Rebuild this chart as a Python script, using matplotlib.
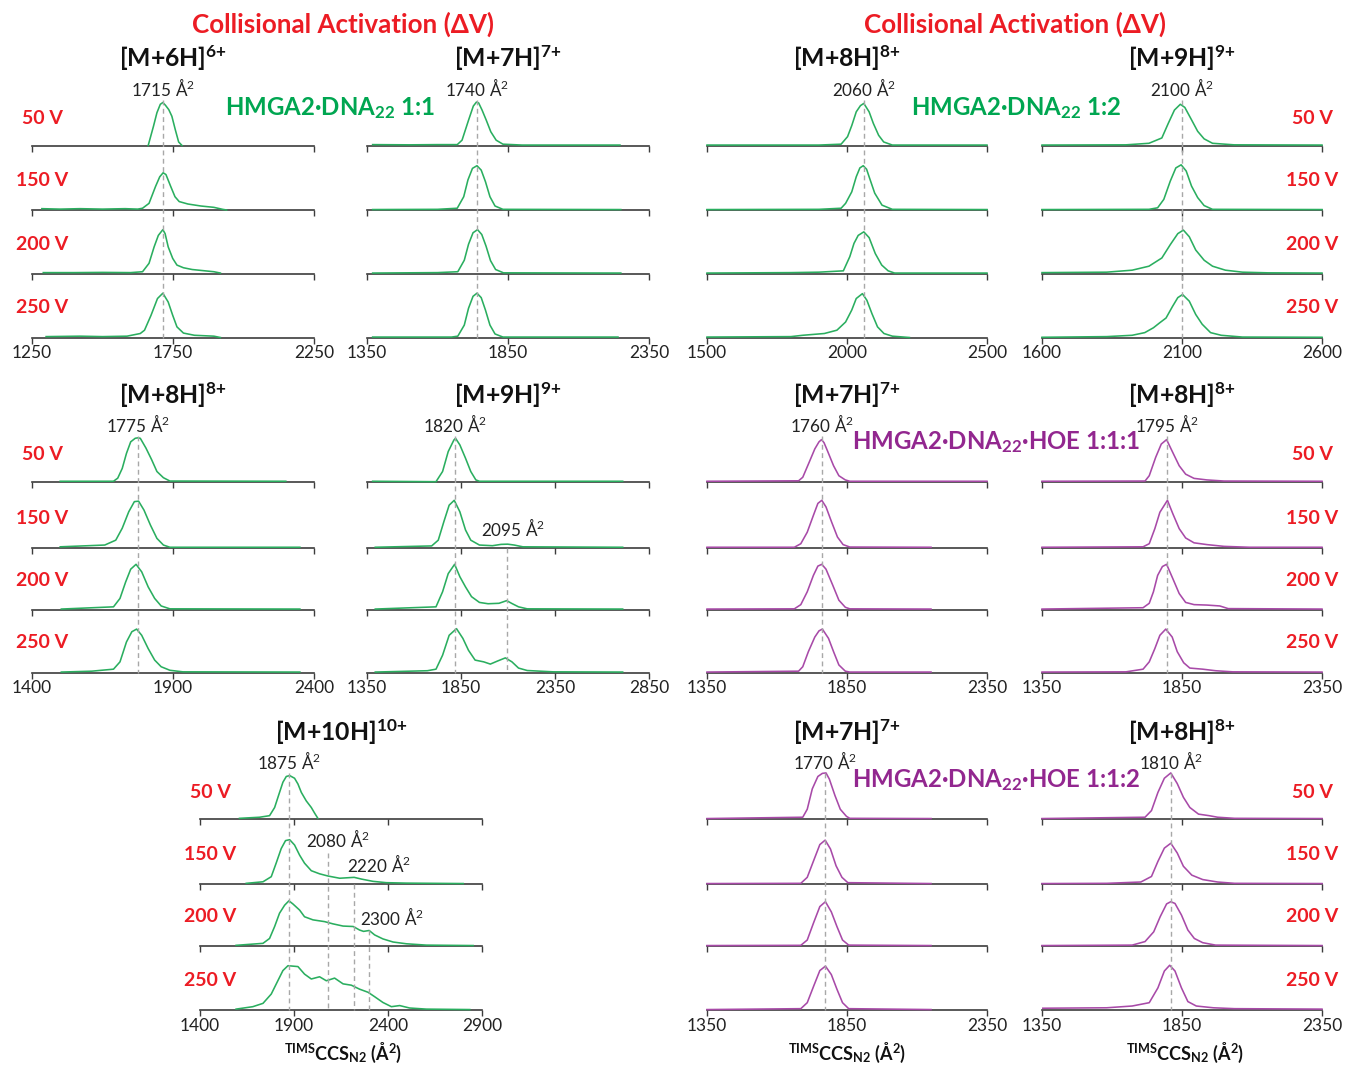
import matplotlib
matplotlib.use("Agg")
import matplotlib.pyplot as plt
from matplotlib import transforms
from matplotlib.lines import Line2D

plt.rcParams['font.family'] = ['Lato', 'DejaVu Sans']
plt.rcParams['mathtext.fontset'] = 'custom'
plt.rcParams['mathtext.rm'] = 'Lato'
plt.rcParams['mathtext.bf'] = 'Lato:bold'
plt.rcParams['mathtext.it'] = 'Lato:italic'

voltages = ['50 V', '150 V', '200 V', '250 V']

# ---- HMGA2·DNA22 1:1, [M+6H]6+  (CCS, normalized intensity)
m6h_50 = [(1662, 0), (1681, 0.44), (1693, 0.74), (1705, 0.93), (1714, 0.97), (1723, 0.91), (1735, 0.81),
          (1746, 0.66), (1758, 0.36), (1770, 0.08), (1782, 0)]
m6h_150 = [(1285, 0.03), (1350, 0.02), (1420, 0.03), (1500, 0.02), (1580, 0.03), (1625, 0.02), (1642, 0.04),
           (1665, 0.15), (1688, 0.53), (1703, 0.75), (1715, 0.84), (1725, 0.8), (1742, 0.53), (1757, 0.3),
           (1772, 0.19), (1803, 0.135), (1849, 0.09), (1895, 0.06), (1926, 0.015), (1940, 0)]
m6h_200 = [(1290, 0.02), (1400, 0.02), (1500, 0.025), (1600, 0.02), (1642, 0.04), (1665, 0.23), (1683, 0.6),
           (1698, 0.86), (1714, 0.99), (1722, 0.9), (1733, 0.6), (1749, 0.34), (1764, 0.19), (1787, 0.13),
           (1818, 0.09), (1864, 0.06), (1895, 0.04), (1918, 0.01)]
m6h_250 = [(1300, 0.02), (1420, 0.03), (1500, 0.02), (1587, 0.03), (1634, 0.09), (1649, 0.165), (1672, 0.5),
           (1695, 0.88), (1714, 1.0), (1733, 0.8), (1749, 0.5), (1764, 0.24), (1787, 0.1), (1826, 0.05),
           (1895, 0.03), (1918, 0)]

# ---- HMGA2·DNA22 1:1, [M+7H]7+
m7h_50 = [(1370, 0.02), (1500, 0.015), (1600, 0.02), (1670, 0.02), (1687, 0.12), (1710, 0.57), (1727, 0.89),
          (1738, 0.98), (1746, 0.96), (1758, 0.8), (1773, 0.57), (1789, 0.31), (1808, 0.12), (1832, 0.03),
          (1900, 0.01), (2247, 0.01)]
m7h_150 = [(1370, 0.01), (1600, 0.015), (1670, 0.04), (1693, 0.3), (1708, 0.68), (1724, 0.94), (1740, 1.0),
           (1755, 0.9), (1770, 0.64), (1786, 0.3), (1804, 0.09), (1832, 0.015), (2250, 0.01)]
m7h_200 = [(1370, 0.01), (1600, 0.02), (1672, 0.04), (1695, 0.3), (1710, 0.66), (1726, 0.92), (1742, 0.99),
           (1757, 0.88), (1772, 0.62), (1788, 0.29), (1806, 0.09), (1834, 0.015), (2250, 0.01)]
m7h_250 = [(1370, 0.01), (1650, 0.01), (1672, 0.03), (1695, 0.28), (1710, 0.66), (1726, 0.93), (1740, 1.0),
           (1755, 0.9), (1770, 0.62), (1786, 0.28), (1804, 0.08), (1832, 0.01), (2240, 0.01)]

# ---- HMGA2·DNA22 1:2, [M+8H]8+
d2_8h_50 = [(1500, 0.01), (1900, 0.01), (1979, 0.03), (2002, 0.2), (2017, 0.45), (2033, 0.76), (2048, 0.9),
            (2060, 0.95), (2079, 0.76), (2094, 0.5), (2113, 0.23), (2131, 0.08), (2162, 0.01), (2500, 0.01)]
d2_8h_150 = [(1500, 0.01), (1900, 0.015), (1979, 0.04), (1995, 0.15), (2017, 0.41), (2033, 0.75), (2046, 0.95),
             (2058, 1.0), (2070, 0.92), (2079, 0.75), (2099, 0.38), (2125, 0.11), (2162, 0.015), (2500, 0.01)]
d2_8h_200 = [(1500, 0.01), (1800, 0.02), (1900, 0.03), (1987, 0.06), (2010, 0.38), (2025, 0.68), (2040, 0.86),
             (2060, 0.94), (2079, 0.81), (2101, 0.45), (2124, 0.19), (2147, 0.06), (2170, 0.01), (2500, 0.01)]
d2_8h_250 = [(1500, 0.01), (1800, 0.02), (1842, 0.05), (1919, 0.09), (1964, 0.165), (1995, 0.35), (2017, 0.62),
             (2033, 0.88), (2055, 0.99), (2071, 0.84), (2089, 0.54), (2109, 0.24), (2132, 0.09), (2162, 0.03),
             (2223, 0.0)]

# ---- HMGA2·DNA22 1:2, [M+9H]9+
d2_9h_50 = [(1600, 0.01), (1900, 0.015), (1982, 0.05), (2028, 0.17), (2051, 0.5), (2073, 0.8), (2094, 0.93),
            (2110, 0.86), (2134, 0.58), (2156, 0.32), (2179, 0.15), (2209, 0.05), (2286, 0.015), (2600, 0.01)]
d2_9h_150 = [(1600, 0.01), (1982, 0.015), (2013, 0.05), (2035, 0.24), (2058, 0.65), (2078, 0.95), (2097, 1.02),
             (2115, 0.88), (2134, 0.54), (2156, 0.28), (2179, 0.1), (2209, 0.015), (2600, 0.01)]
d2_9h_200 = [(1600, 0.02), (1831, 0.03), (1922, 0.075), (1982, 0.165), (2028, 0.35), (2058, 0.65), (2085, 0.9),
             (2105, 0.98), (2126, 0.83), (2149, 0.53), (2179, 0.3), (2209, 0.165), (2255, 0.075), (2316, 0.03),
             (2407, 0.015), (2600, 0.01)]
d2_9h_250 = [(1600, 0.005), (1831, 0.02), (1922, 0.05), (1967, 0.11), (1998, 0.22), (2020, 0.33), (2043, 0.44),
             (2066, 0.7), (2085, 0.9), (2102, 0.97), (2126, 0.82), (2149, 0.52), (2172, 0.3), (2202, 0.11),
             (2240, 0.05), (2316, 0.01), (2600, 0.005)]

# ---- HMGA2·DNA22 1:1, [M+8H]8+
m8h_50 = [(1500, 0.01), (1689, 0.01), (1704, 0.08), (1720, 0.3), (1735, 0.64), (1750, 0.9), (1766, 0.98),
          (1775, 0.99), (1784, 0.98), (1804, 0.76), (1824, 0.5), (1843, 0.23), (1866, 0.09), (1889, 0.015),
          (2300, 0.01)]
m8h_150 = [(1500, 0.02), (1658, 0.06), (1697, 0.17), (1720, 0.44), (1743, 0.81), (1763, 1.04), (1778, 1.05),
           (1797, 0.85), (1820, 0.51), (1843, 0.21), (1866, 0.06), (1889, 0.01), (2350, 0.01)]
m8h_200 = [(1504, 0.01), (1689, 0.06), (1712, 0.25), (1732, 0.62), (1750, 0.91), (1769, 1.02), (1789, 0.85),
           (1812, 0.51), (1835, 0.25), (1858, 0.08), (1889, 0.015), (2350, 0.01)]
m8h_250 = [(1504, 0.01), (1612, 0.03), (1689, 0.075), (1712, 0.24), (1735, 0.69), (1754, 0.92), (1771, 0.98),
           (1789, 0.84), (1812, 0.54), (1835, 0.28), (1858, 0.13), (1889, 0.05), (1935, 0.015), (2350, 0.01)]

# ---- HMGA2·DNA22 1:1, [M+9H]9+
m9h_50 = [(1380, 0.01), (1717, 0.0), (1752, 0.23), (1782, 0.68), (1812, 0.94), (1821, 0.98), (1844, 0.83),
          (1874, 0.53), (1902, 0.23), (1929, 0.04), (1948, 0.01), (2710, 0.01)]
m9h_150 = [(1394, 0.01), (1694, 0.04), (1729, 0.17), (1759, 0.59), (1787, 0.96), (1814, 1.07), (1844, 0.81),
           (1874, 0.4), (1902, 0.17), (1948, 0.06), (2017, 0.045), (2063, 0.075), (2098, 0.08), (2133, 0.06),
           (2179, 0.02), (2710, 0.01)]
m9h_200 = [(1394, 0.01), (1717, 0.06), (1752, 0.4), (1782, 0.81), (1816, 1.02), (1844, 0.74), (1874, 0.51),
           (1906, 0.29), (1948, 0.16), (1994, 0.13), (2052, 0.14), (2093, 0.2), (2121, 0.135), (2156, 0.06),
           (2202, 0.015), (2710, 0.01)]
m9h_250 = [(1394, 0.01), (1671, 0.04), (1717, 0.075), (1752, 0.39), (1787, 0.84), (1826, 0.99), (1860, 0.77),
           (1890, 0.5), (1925, 0.28), (1971, 0.24), (2006, 0.19), (2045, 0.26), (2086, 0.33), (2121, 0.24),
           (2156, 0.1), (2202, 0.045), (2340, 0.015), (2710, 0.01)]

# ---- HMGA2·DNA22·HOE 1:1:1, [M+7H]7+
h1_7h_50 = [(1350, 0.01), (1677, 0.02), (1692, 0.1), (1715, 0.44), (1735, 0.74), (1750, 0.9), (1759, 0.95),
            (1768, 0.88), (1780, 0.7), (1802, 0.36), (1821, 0.135), (1844, 0.04), (1860, 0.01), (2350, 0.01)]
h1_7h_150 = [(1350, 0.01), (1662, 0.01), (1685, 0.09), (1708, 0.35), (1730, 0.73), (1746, 1.0), (1760, 1.07),
             (1775, 0.92), (1795, 0.58), (1816, 0.24), (1836, 0.07), (1860, 0.015), (2150, 0.01)]
h1_7h_200 = [(1350, 0.01), (1662, 0.015), (1685, 0.11), (1708, 0.4), (1730, 0.77), (1746, 0.98), (1760, 1.02),
             (1775, 0.91), (1799, 0.55), (1821, 0.21), (1844, 0.05), (1860, 0.015), (2150, 0.01)]
h1_7h_250 = [(1350, 0.01), (1677, 0.03), (1692, 0.13), (1712, 0.47), (1735, 0.8), (1750, 0.94), (1762, 0.98),
             (1784, 0.77), (1802, 0.47), (1821, 0.17), (1844, 0.03), (1860, 0.01), (2150, 0.01)]

# ---- HMGA2·DNA22·HOE 1:1:1, [M+8H]8+
h1_8h_50 = [(1350, 0.01), (1718, 0.015), (1733, 0.135), (1756, 0.55), (1776, 0.85), (1795, 0.95), (1817, 0.66),
            (1840, 0.36), (1863, 0.17), (1893, 0.075), (1939, 0.04), (2000, 0.015), (2350, 0.01)]
h1_8h_150 = [(1350, 0.01), (1711, 0.02), (1733, 0.09), (1753, 0.43), (1771, 0.8), (1798, 1.07), (1817, 0.77),
             (1840, 0.43), (1863, 0.22), (1893, 0.11), (1939, 0.07), (2000, 0.03), (2091, 0.01), (2350, 0.01)]
h1_8h_200 = [(1350, 0.01), (1711, 0.04), (1733, 0.14), (1748, 0.4), (1763, 0.77), (1780, 0.97), (1795, 1.02),
             (1817, 0.7), (1840, 0.36), (1863, 0.16), (1893, 0.11), (1939, 0.1), (1985, 0.08), (2015, 0.02),
             (2350, 0.01)]
h1_8h_250 = [(1350, 0.01), (1650, 0.015), (1711, 0.075), (1733, 0.24), (1753, 0.54), (1771, 0.84), (1792, 0.98),
             (1815, 0.8), (1833, 0.47), (1856, 0.22), (1878, 0.1), (1924, 0.075), (1970, 0.04), (2031, 0.015),
             (2350, 0.01)]

# ---- HMGA2·DNA22 1:1, [M+10H]10+
m10h_50 = [(1610, 0.015), (1717, 0.04), (1770, 0.075), (1797, 0.26), (1820, 0.56), (1841, 0.83), (1859, 0.96),
           (1877, 0.98), (1903, 0.92), (1921, 0.79), (1939, 0.6), (1965, 0.41), (1992, 0.26), (2010, 0.13),
           (2027, 0.015)]
m10h_150 = [(1646, 0.015), (1735, 0.05), (1779, 0.165), (1805, 0.47), (1832, 0.8), (1855, 0.98), (1877, 1.0),
            (1903, 0.88), (1930, 0.65), (1956, 0.47), (1992, 0.3), (2036, 0.23), (2081, 0.18), (2143, 0.13),
            (2220, 0.15), (2260, 0.11), (2320, 0.06), (2391, 0.03), (2498, 0.02), (2800, 0.01)]
m10h_200 = [(1592, 0.015), (1735, 0.06), (1770, 0.17), (1797, 0.44), (1823, 0.74), (1850, 0.92), (1873, 1.02),
            (1894, 0.95), (1930, 0.81), (1956, 0.66), (2001, 0.59), (2063, 0.55), (2107, 0.5), (2161, 0.45),
            (2215, 0.44), (2249, 0.36), (2270, 0.33), (2300, 0.35), (2329, 0.25), (2373, 0.16), (2427, 0.09),
            (2498, 0.05), (2604, 0.02), (2853, 0.01)]
m10h_250 = [(1592, 0.02), (1681, 0.075), (1735, 0.15), (1779, 0.36), (1814, 0.66), (1841, 0.89), (1868, 1.0),
            (1921, 0.98), (1956, 0.81), (1992, 0.7), (2036, 0.75), (2072, 0.66), (2116, 0.72), (2161, 0.59),
            (2205, 0.56), (2249, 0.47), (2294, 0.4), (2329, 0.3), (2373, 0.17), (2418, 0.075), (2462, 0.1),
            (2515, 0.045), (2604, 0.02), (2835, 0.01)]

# ---- HMGA2·DNA22·HOE 1:1:2, [M+7H]7+
h2_7h_50 = [(1350, 0.01), (1692, 0.04), (1708, 0.22), (1726, 0.68), (1746, 0.96), (1762, 1.03), (1775, 1.04),
            (1787, 0.9), (1807, 0.53), (1826, 0.22), (1848, 0.06), (1860, 0.015), (2150, 0.01)]
h2_7h_150 = [(1350, 0.01), (1685, 0.015), (1708, 0.15), (1731, 0.53), (1753, 0.89), (1772, 0.99), (1791, 0.79),
             (1811, 0.41), (1832, 0.15), (1853, 0.03), (2150, 0.01)]
h2_7h_200 = [(1350, 0.01), (1685, 0.015), (1708, 0.135), (1731, 0.53), (1753, 0.89), (1773, 1.0), (1794, 0.77),
             (1814, 0.44), (1834, 0.135), (1856, 0.02), (2150, 0.01)]
h2_7h_250 = [(1350, 0.01), (1685, 0.03), (1708, 0.165), (1731, 0.54), (1753, 0.89), (1773, 0.99), (1794, 0.8),
             (1814, 0.47), (1834, 0.165), (1856, 0.03), (2150, 0.01)]

# ---- HMGA2·DNA22·HOE 1:1:2, [M+8H]8+
h2_8h_50 = [(1350, 0.01), (1718, 0.04), (1741, 0.19), (1764, 0.6), (1787, 0.92), (1810, 1.04), (1833, 0.8),
            (1855, 0.49), (1878, 0.26), (1909, 0.11), (1947, 0.075), (1977, 0.04), (2038, 0.015), (2350, 0.01)]
h2_8h_150 = [(1350, 0.01), (1581, 0.015), (1703, 0.045), (1741, 0.17), (1764, 0.51), (1787, 0.81), (1810, 0.92),
             (1833, 0.7), (1855, 0.4), (1885, 0.2), (1924, 0.1), (1977, 0.045), (2038, 0.015), (2350, 0.01)]
h2_8h_200 = [(1350, 0.01), (1672, 0.02), (1718, 0.1), (1749, 0.32), (1772, 0.66), (1795, 0.95), (1810, 1.0),
             (1825, 0.96), (1848, 0.7), (1871, 0.36), (1894, 0.17), (1924, 0.075), (1970, 0.02), (2350, 0.01)]
h2_8h_250 = [(1353, 0.04), (1581, 0.05), (1672, 0.09), (1733, 0.165), (1764, 0.5), (1787, 0.88), (1806, 1.01),
             (1825, 0.88), (1848, 0.5), (1871, 0.19), (1901, 0.09), (1962, 0.05), (2038, 0.03), (2350, 0.02)]

GREEN = '#2aae5f'
PURPLE = '#a84aa8'
RED = '#ec1c24'
LBL_GREEN = '#00a651'
LBL_PURPLE = '#92278f'
AXC = '#3c3c3c'
DASH = '#a8a8a8'

W, H = 1348, 1070
fig = plt.figure(figsize=(W / 100, H / 100), dpi=100)

row_bases = [[145.5, 210, 273.5, 337.5], [481.7, 547.7, 609.5, 672.5], [819, 884, 946, 1010]]
volt_offsets = [27, 29, 29, 30]
AX_H = 48
YTOP = AX_H / 44.3


def fx(px):
    return px / W


def fy(py):
    return 1 - py / H


# traces, ticks, title, labelled peak, colour, left px, right px, row, voltage label x (px)
panels = [
    ([m6h_50, m6h_150, m6h_200, m6h_250], [1250, 1750, 2250], r'[M+6H]$^{\mathbf{6{+}}}$', 1715, GREEN, 32, 314, 0, 42),
    ([m7h_50, m7h_150, m7h_200, m7h_250], [1350, 1850, 2350], r'[M+7H]$^{\mathbf{7{+}}}$', 1740, GREEN, 367, 649, 0, None),
    ([d2_8h_50, d2_8h_150, d2_8h_200, d2_8h_250], [1500, 2000, 2500], r'[M+8H]$^{\mathbf{8{+}}}$', 2060, GREEN, 707, 987, 0, None),
    ([d2_9h_50, d2_9h_150, d2_9h_200, d2_9h_250], [1600, 2100, 2600], r'[M+9H]$^{\mathbf{9{+}}}$', 2100, GREEN, 1042, 1322, 0, 1312),
    ([m8h_50, m8h_150, m8h_200, m8h_250], [1400, 1900, 2400], r'[M+8H]$^{\mathbf{8{+}}}$', 1775, GREEN, 32, 314, 1, 42),
    ([m9h_50, m9h_150, m9h_200, m9h_250], [1350, 1850, 2350, 2850], r'[M+9H]$^{\mathbf{9{+}}}$', 1820, GREEN, 367, 649, 1, None),
    ([h1_7h_50, h1_7h_150, h1_7h_200, h1_7h_250], [1350, 1850, 2350], r'[M+7H]$^{\mathbf{7{+}}}$', 1760, PURPLE, 707, 987, 1, None),
    ([h1_8h_50, h1_8h_150, h1_8h_200, h1_8h_250], [1350, 1850, 2350], r'[M+8H]$^{\mathbf{8{+}}}$', 1795, PURPLE, 1042, 1322, 1, 1312),
    ([m10h_50, m10h_150, m10h_200, m10h_250], [1400, 1900, 2400, 2900], r'[M+10H]$^{\mathbf{10{+}}}$', 1875, GREEN, 200, 482, 2, 210),
    ([h2_7h_50, h2_7h_150, h2_7h_200, h2_7h_250], [1350, 1850, 2350], r'[M+7H]$^{\mathbf{7{+}}}$', 1770, PURPLE, 707, 987, 2, None),
    ([h2_8h_50, h2_8h_150, h2_8h_200, h2_8h_250], [1350, 1850, 2350], r'[M+8H]$^{\mathbf{8{+}}}$', 1810, PURPLE, 1042, 1322, 2, 1312),
]

bottom_axes = []
for traces, ticks, title, peak, col, x0, x1, row, vx in panels:
    bases = row_bases[row]
    for i, (tr, base) in enumerate(zip(traces, bases)):
        ax = fig.add_axes([fx(x0), fy(base), (x1 - x0) / W, AX_H / H])
        ax.patch.set_visible(False)
        ax.set_xlim(ticks[0], ticks[-1])
        ax.set_ylim(0, YTOP)
        for s in ['top', 'right', 'left']:
            ax.spines[s].set_visible(False)
        ax.spines['bottom'].set_color(AXC)
        ax.spines['bottom'].set_linewidth(1.2)
        ax.set_yticks([])
        ax.set_xticks(ticks)
        ax.tick_params(axis='x', direction='out', length=4, width=1, color=AXC,
                       labelsize=12.5, pad=1.5, labelcolor='#222222')
        if i < 3:
            ax.tick_params(labelbottom=False)
        xs = [p[0] for p in tr]
        ys = [p[1] for p in tr]
        ax.plot(xs, ys, color=col, lw=1.15, zorder=3, clip_on=False)
        if vx is not None:
            fig.text(fx(vx), fy(base - volt_offsets[i]), voltages[i], color=RED, fontsize=14,
                     fontweight='bold', ha='center', va='center')
    bottom_axes.append(ax)
    # panel title and labelled peak
    fig.text(fx((x0 + x1) / 2), fy(bases[0] - 87), title, fontsize=17.8, fontweight='bold',
             ha='center', va='center', color='#111111')
    xpix = x0 + (peak - ticks[0]) / (ticks[-1] - ticks[0]) * (x1 - x0)
    fig.text(fx(xpix), fy(bases[0] - 58), f'{peak} Å$^{{2}}$', fontsize=12.3, ha='center', va='center',
             color='#222222')
    blend = transforms.blended_transform_factory(ax.transData, fig.transFigure)
    fig.add_artist(Line2D([peak, peak], [fy(bases[0] - 46), fy(bases[3])], transform=blend,
                          color=DASH, lw=1, ls=(0, (3.5, 2.5)), zorder=1))


def extra_line(ax, x, top_px, bot_px):
    blend = transforms.blended_transform_factory(ax.transData, fig.transFigure)
    fig.add_artist(Line2D([x, x], [fy(top_px), fy(bot_px)], transform=blend,
                          color=DASH, lw=1, ls=(0, (3.5, 2.5)), zorder=1))


def extra_label(ax, x, y_px, s):
    blend = transforms.blended_transform_factory(ax.transData, fig.transFigure)
    ax.text(x, fy(y_px), s, transform=blend, fontsize=12.3, ha='center', va='center', color='#222222')


ax_b2 = bottom_axes[5]
extra_line(ax_b2, 2095, 547.7, 672.5)
extra_label(ax_b2, 2127, 528, '2095 Å$^{2}$')

ax_e = bottom_axes[8]
extra_line(ax_e, 2080, 853, 1010)
extra_line(ax_e, 2220, 884, 1010)
extra_line(ax_e, 2300, 930, 1010)
extra_label(ax_e, 2134, 839, '2080 Å$^{2}$')
extra_label(ax_e, 2352, 864, '2220 Å$^{2}$')
extra_label(ax_e, 2421, 917, '2300 Å$^{2}$')

# headers and sample labels
for cx in [343, 1015]:
    fig.text(fx(cx), fy(24), 'Collisional Activation (ΔV)', color=RED, fontsize=18.7, fontweight='bold',
             ha='center', va='center')

fig.text(fx(330), fy(108), r'HMGA2·DNA$_{\mathbf{22}}$ 1:1', color=LBL_GREEN, fontsize=17.3,
         fontweight='bold', ha='center', va='center')
fig.text(fx(1016), fy(108), r'HMGA2·DNA$_{\mathbf{22}}$ 1:2', color=LBL_GREEN, fontsize=17.3,
         fontweight='bold', ha='center', va='center')
fig.text(fx(996), fy(442), r'HMGA2·DNA$_{\mathbf{22}}$·HOE 1:1:1', color=LBL_PURPLE, fontsize=17.3,
         fontweight='bold', ha='center', va='center')
fig.text(fx(996), fy(780), r'HMGA2·DNA$_{\mathbf{22}}$·HOE 1:1:2', color=LBL_PURPLE, fontsize=17.3,
         fontweight='bold', ha='center', va='center')

for cx in [343, 847, 1185]:
    fig.text(fx(cx), fy(1053), r'$^{\mathbf{TIMS}}$CCS$_{\mathbf{N2}}$ (Å$^{\mathbf{2}}$)', fontsize=13,
             fontweight='bold', ha='center', va='center', color='#111111')

fig.savefig('out.png', dpi=100)
